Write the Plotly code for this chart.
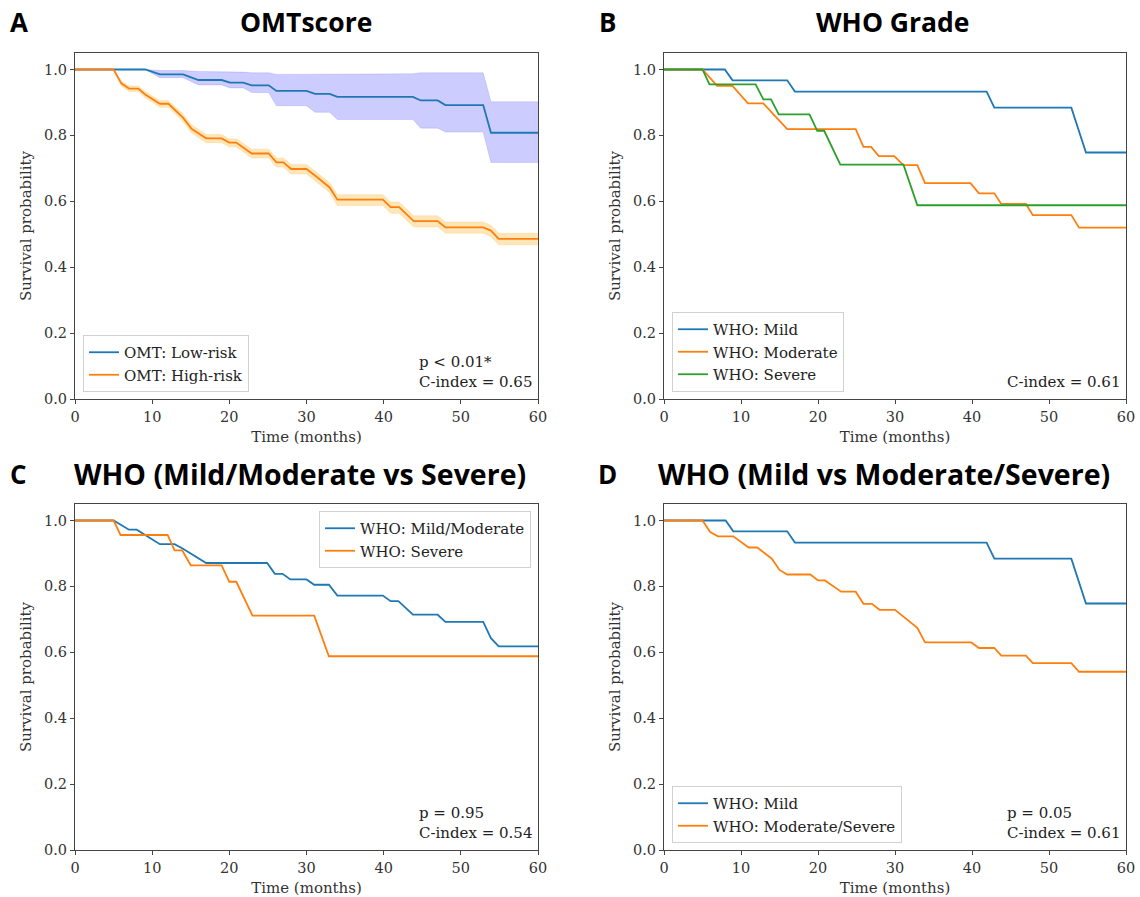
import plotly.graph_objects as go

# ---- data ----
months_ticks = [0, 10, 20, 30, 40, 50, 60]
prob_ticks = [0.0, 0.2, 0.4, 0.6, 0.8, 1.0]

# A: OMTscore
omt_low_t = [0, 9.1, 11.0, 14.0, 16.0, 19.0, 20.1, 21.8, 22.9, 25.1, 26.1, 30.0, 31.1,
             33.0, 34.0, 43.8, 44.8, 47.0, 48.0, 52.9, 53.9, 60]
omt_low_s = [1.0, 1.0, 0.985, 0.985, 0.968, 0.968, 0.96, 0.96, 0.952, 0.952, 0.935, 0.935,
             0.926, 0.926, 0.917, 0.917, 0.906, 0.906, 0.892, 0.892, 0.808, 0.808]
omt_low_hi = [1.0, 1.0, 0.997, 0.997, 0.994, 0.994, 0.992, 0.992, 0.99, 0.99, 0.985, 0.985,
              0.986, 0.986, 0.987, 0.987, 0.99, 0.99, 0.99, 0.99, 0.902, 0.902]
omt_low_lo = [1.0, 1.0, 0.975, 0.975, 0.953, 0.953, 0.944, 0.944, 0.93, 0.93, 0.89, 0.89,
              0.87, 0.87, 0.848, 0.848, 0.822, 0.822, 0.81, 0.81, 0.718, 0.718]

omt_high_t = [0, 5.0, 6.0, 7.0, 8.2, 9.1, 11.0, 12.1, 14.0, 15.1, 17.0, 19.0, 20.0, 20.9,
              22.9, 25.1, 26.1, 27.0, 28.0, 30.0, 31.1, 33.0, 34.0, 39.9, 40.9, 42.0,
              43.9, 47.0, 48.0, 52.9, 53.9, 54.9, 60]
omt_high_s = [1.0, 1.0, 0.958, 0.942, 0.942, 0.924, 0.896, 0.896, 0.854, 0.82, 0.791, 0.791,
              0.778, 0.778, 0.745, 0.745, 0.718, 0.718, 0.698, 0.698, 0.678, 0.642, 0.605,
              0.605, 0.582, 0.582, 0.54, 0.54, 0.521, 0.521, 0.511, 0.486, 0.486]
omt_high_hi = [1.0, 1.0, 0.965, 0.95, 0.95, 0.933, 0.906, 0.906, 0.865, 0.832, 0.803, 0.803,
               0.79, 0.79, 0.758, 0.758, 0.731, 0.731, 0.712, 0.712, 0.692, 0.657, 0.62,
               0.62, 0.598, 0.598, 0.556, 0.556, 0.537, 0.537, 0.527, 0.503, 0.503]
omt_high_lo = [1.0, 1.0, 0.95, 0.933, 0.933, 0.914, 0.885, 0.885, 0.842, 0.807, 0.778, 0.778,
               0.765, 0.765, 0.731, 0.731, 0.704, 0.704, 0.683, 0.683, 0.662, 0.626, 0.587,
               0.587, 0.564, 0.564, 0.522, 0.522, 0.503, 0.503, 0.493, 0.468, 0.468]

# B: WHO grade
who_mild_t = [0, 7.9, 8.9, 16.0, 17.0, 41.9, 42.9, 52.9, 54.8, 60]
who_mild_s = [1.0, 1.0, 0.967, 0.967, 0.933, 0.933, 0.884, 0.884, 0.748, 0.748]

who_mod_t = [0, 5.0, 6.9, 8.9, 10.9, 12.9, 16.0, 24.9, 25.9, 26.9, 27.9, 29.9, 31.1, 32.9,
             33.9, 39.8, 40.9, 42.9, 43.8, 47.0, 47.9, 52.9, 53.9, 60]
who_mod_s = [1.0, 1.0, 0.95, 0.95, 0.897, 0.897, 0.819, 0.819, 0.765, 0.765, 0.737, 0.737,
             0.71, 0.71, 0.655, 0.655, 0.624, 0.624, 0.592, 0.592, 0.558, 0.558, 0.52, 0.52]

who_sev_t = [0, 5.0, 5.9, 11.9, 12.9, 13.9, 14.9, 18.9, 19.9, 20.8, 22.9, 31.1, 32.9, 60]
who_sev_s = [1.0, 1.0, 0.955, 0.955, 0.909, 0.909, 0.864, 0.864, 0.814, 0.814, 0.711, 0.711,
             0.588, 0.588]

# C: Mild/Moderate vs Severe
mm_t = [0, 5.0, 7.0, 8.0, 11.0, 12.9, 14.0, 17.0, 24.9, 25.9, 26.9, 27.9, 30.0, 31.0, 32.9,
        34.0, 39.9, 40.9, 41.9, 43.8, 47.0, 48.0, 52.9, 53.9, 54.9, 60]
mm_s = [1.0, 1.0, 0.972, 0.972, 0.928, 0.928, 0.914, 0.871, 0.871, 0.838, 0.838, 0.821,
        0.821, 0.805, 0.805, 0.772, 0.772, 0.755, 0.755, 0.714, 0.714, 0.692, 0.692, 0.643,
        0.618, 0.618]
sev_t = [0, 5.0, 5.9, 12.0, 12.9, 13.9, 15.0, 19.0, 20.0, 20.9, 23.0, 31.0, 32.9, 60]
sev_s = [1.0, 1.0, 0.956, 0.956, 0.909, 0.909, 0.864, 0.864, 0.814, 0.814, 0.711, 0.711,
         0.588, 0.588]

# D: Mild vs Moderate/Severe
mild_t = [0, 8.0, 9.0, 16.0, 17.0, 41.9, 42.9, 52.9, 54.8, 60]
mild_s = [1.0, 1.0, 0.967, 0.967, 0.933, 0.933, 0.884, 0.884, 0.748, 0.748]
ms_t = [0, 5.0, 6.0, 7.0, 9.0, 11.0, 12.1, 14.0, 15.0, 16.0, 19.0, 20.0, 20.9, 23.0, 24.9,
        25.9, 27.0, 28.0, 30.0, 32.9, 33.9, 39.9, 40.9, 42.9, 43.8, 47.0, 47.9, 52.9, 53.9, 60]
ms_s = [1.0, 1.0, 0.965, 0.952, 0.952, 0.918, 0.918, 0.884, 0.85, 0.836, 0.836, 0.818, 0.818,
        0.784, 0.784, 0.747, 0.747, 0.729, 0.729, 0.674, 0.63, 0.63, 0.613, 0.613, 0.59,
        0.59, 0.567, 0.567, 0.541, 0.541]

BLUE = '#1f77b4'
ORANGE = '#ff7f0e'
GREEN = '#2ca02c'
SERIF = 'DejaVu Serif'
TITLE_FONT = 'Open Sans'

# the page's body margin is removed below, so figure == window
W, H = 1140, 897


def px(x):
    return x / W


def py(y):
    return 1 - y / H


# plot boxes in window pixels: (left, right, top, bottom)
boxes = {
    '': (75, 538, 53, 399),
    '2': (664, 1126, 53, 399),
    '3': (75, 538, 504, 850),
    '4': (664, 1126, 504, 850),
}

fig = go.Figure()


def line(t, s, color, name, ax, legend):
    fig.add_trace(go.Scatter(x=t, y=s, mode='lines', name=name,
                             line=dict(color=color, width=1.8),
                             xaxis='x' + ax, yaxis='y' + ax, legend=legend))


def band(t, lo, hi, fill, ax):
    fig.add_trace(go.Scatter(x=t, y=lo, mode='lines', line=dict(width=0.6, color=fill),
                             showlegend=False, hoverinfo='skip',
                             xaxis='x' + ax, yaxis='y' + ax))
    fig.add_trace(go.Scatter(x=t, y=hi, mode='lines', line=dict(width=0.6, color=fill),
                             fill='tonexty', fillcolor=fill, showlegend=False,
                             hoverinfo='skip', xaxis='x' + ax, yaxis='y' + ax))


# A
band(omt_low_t, omt_low_lo, omt_low_hi, 'rgba(0,0,255,0.2)', '')
band(omt_high_t, omt_high_lo, omt_high_hi, 'rgba(255,165,0,0.28)', '')
line(omt_low_t, omt_low_s, BLUE, 'OMT: Low-risk', '', 'legend')
line(omt_high_t, omt_high_s, ORANGE, 'OMT: High-risk', '', 'legend')
# B
line(who_mild_t, who_mild_s, BLUE, 'WHO: Mild', '2', 'legend2')
line(who_mod_t, who_mod_s, ORANGE, 'WHO: Moderate', '2', 'legend2')
line(who_sev_t, who_sev_s, GREEN, 'WHO: Severe', '2', 'legend2')
# C
line(mm_t, mm_s, BLUE, 'WHO: Mild/Moderate', '3', 'legend3')
line(sev_t, sev_s, ORANGE, 'WHO: Severe', '3', 'legend3')
# D
line(mild_t, mild_s, BLUE, 'WHO: Mild', '4', 'legend4')
line(ms_t, ms_s, ORANGE, 'WHO: Moderate/Severe', '4', 'legend4')

axis_common = dict(showgrid=False, zeroline=False, showline=True, mirror=True,
                   linecolor='#444', linewidth=1.2, ticks='outside', ticklen=4,
                   tickcolor='#444', tickfont=dict(family=SERIF, size=14.5, color='#333'),
                   automargin=False)

layout = {}
for ax, (l, r, t, b) in boxes.items():
    layout['xaxis' + ax] = dict(axis_common, domain=[px(l), px(r)], range=[0, 60],
                                tickvals=months_ticks, anchor='y' + ax,
                                title=dict(text='Time (months)', standoff=7,
                                           font=dict(family=SERIF, size=15, color='#333')))
    layout['yaxis' + ax] = dict(axis_common, domain=[py(b), py(t)], range=[0, 1.05],
                                tickvals=prob_ticks, tickformat='.1f', anchor='x' + ax,
                                title=dict(text='Survival probability', standoff=8,
                                           font=dict(family=SERIF, size=15, color='#333')))

leg_common = dict(bgcolor='rgba(255,255,255,0.85)', bordercolor='#d0d0d0', borderwidth=1,
                  font=dict(family=SERIF, size=15, color='#222'), itemwidth=30,
                  tracegroupgap=0, traceorder='normal')
layout['legend'] = dict(leg_common, x=px(83), y=py(392), xanchor='left', yanchor='bottom')
layout['legend2'] = dict(leg_common, x=px(672), y=py(392), xanchor='left', yanchor='bottom')
layout['legend3'] = dict(leg_common, x=px(531), y=py(511), xanchor='right', yanchor='top')
layout['legend4'] = dict(leg_common, x=px(672), y=py(843), xanchor='left', yanchor='bottom')

fig.update_layout(**layout)
fig.update_layout(width=W, height=H, margin=dict(l=0, r=0, t=0, b=0),
                  plot_bgcolor='white', paper_bgcolor='white', showlegend=True)

# panel titles and letters (window pixels)
titles = [('A', 19, 22, 'OMTscore', 306, 22, 26.5),
          ('B', 607, 22, 'WHO Grade', 893, 22, 26.5),
          ('C', 18, 474, 'WHO (Mild/Moderate vs Severe)', 300, 474, 28.5),
          ('D', 607, 474, 'WHO (Mild vs Moderate/Severe)', 884, 474, 28.5)]
for letter, lx, ly, title, tx, ty, size in titles:
    fig.add_annotation(text='<b>%s</b>' % letter, x=px(lx), y=py(ly), xref='paper',
                       yref='paper', xanchor='center', yanchor='middle', showarrow=False,
                       font=dict(family=TITLE_FONT, size=26, color='black'))
    fig.add_annotation(text='<b>%s</b>' % title, x=px(tx), y=py(ty), xref='paper',
                       yref='paper', xanchor='center', yanchor='middle', showarrow=False,
                       font=dict(family=TITLE_FONT, size=size, color='black'))

# stats text in each panel
stats = [('p < 0.01*<br>C-index = 0.65', 534, 393),
         ('C-index = 0.61', 1122, 393),
         ('p = 0.95<br>C-index = 0.54', 534, 844),
         ('p = 0.05<br>C-index = 0.61', 1122, 844)]
for txt, x, y in stats:
    fig.add_annotation(text=txt, x=px(x), y=py(y), xref='paper', yref='paper',
                       xanchor='right', yanchor='bottom', align='left', showarrow=False,
                       font=dict(family=SERIF, size=15, color='#222'))

fig.write_html("out.html", config={'displayModeBar': False},
               post_script="document.body.style.margin='0';")
